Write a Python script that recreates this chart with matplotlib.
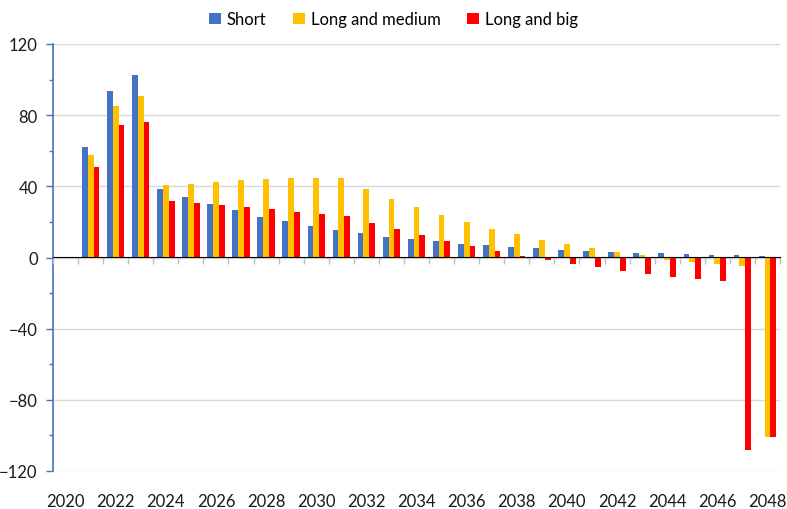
import matplotlib
matplotlib.use("Agg")
import matplotlib.pyplot as plt
from matplotlib.ticker import MultipleLocator, FixedLocator, NullFormatter, NullLocator
from matplotlib.patches import Patch
import numpy as np

years = list(range(2021, 2049))
short = [62, 93.5, 102.5, 38.5, 34, 30, 26.5, 23, 20.3, 17.6, 15.4, 13.5, 11.8,
         10.3, 9.0, 7.7, 6.8, 5.8, 5.1, 4.3, 3.8, 3.1, 2.7, 2.4, 2.0, 1.6, 1.4, 1.0]
long_medium = [57.5, 85.3, 90.5, 40.5, 41.5, 42.6, 43.4, 43.9, 44.5, 44.7, 44.9, 38.5, 32.8,
               28.2, 23.7, 19.7, 16.1, 13.0, 10.1, 7.5, 5.4, 3.1, 1.6, -1.2, -2.4, -3.8, -5.0, -101]
long_big = [51, 74.5, 76.3, 31.5, 30.4, 29.3, 28.2, 27.0, 25.7, 24.6, 23.3, 19.3, 15.8,
            12.4, 9.2, 6.2, 3.5, 1.1, -1.5, -3.5, -5.5, -7.4, -9.1, -10.8, -12.1, -13.4, -108, -101]
tick_years = list(range(2020, 2049, 2))
series_names = ["Short", "Long and medium", "Long and big"]
colors = ["#4472C4", "#FFC000", "#FF0000"]

plt.rcParams['font.family'] = ['Lato', 'DejaVu Sans']

fig = plt.figure(figsize=(7.87, 5.10), dpi=100)
ax = fig.add_axes([53/787, 1-472/510, (780-53)/787, (472-45)/510])

x = np.array(years, dtype=float)
w = 0.232
for i, (vals, c) in enumerate(zip([short, long_medium, long_big], colors)):
    ax.bar(x + (i - 1) * w, vals, width=w, color=c, zorder=3, linewidth=0)

ax.set_xlim(2019.5, 2048.5)
ax.set_ylim(-120, 120)

ax.yaxis.set_major_locator(MultipleLocator(40))
ax.yaxis.set_minor_locator(MultipleLocator(20))
ax.grid(axis='y', which='major', color='#d9d9d9', linewidth=1, zorder=0)
ax.set_axisbelow(True)

for s in ['top', 'right', 'bottom']:
    ax.spines[s].set_visible(False)
ax.spines['left'].set_color('#4472C4')
ax.spines['left'].set_linewidth(1.2)
ax.tick_params(axis='y', which='major', length=5, color='#4472C4', width=1,
               labelsize=12, labelcolor='#1a1a1a', pad=6)
ax.tick_params(axis='y', which='minor', length=3, color='#4472C4', width=1)

ax.set_xticks(tick_years)
ax.set_xticklabels([str(t) for t in tick_years])
ax.tick_params(axis='x', which='both', length=0, labelsize=12, labelcolor='#1a1a1a', pad=16)

# zero axis with category boundary ticks
sec = ax.secondary_xaxis(0.5)
sec.spines['bottom'].set_color('#bfbfbf')
sec.spines['bottom'].set_linewidth(1.2)
sec.xaxis.set_major_locator(FixedLocator(list(np.arange(2019.5, 2048.6, 1.0))))
sec.xaxis.set_minor_locator(NullLocator())
sec.xaxis.set_major_formatter(NullFormatter())
sec.tick_params(axis='x', which='major', direction='in', length=5, color='#bfbfbf', width=1,
                labelbottom=False, labeltop=False)
sec.set_zorder(4)

handles = [Patch(facecolor=c, edgecolor='none') for c in colors]
fig.legend(handles, series_names, loc='upper center', bbox_to_anchor=(0.5, 1.005),
           ncol=3, frameon=False, fontsize=12, handlelength=0.7, handleheight=0.7,
           handletextpad=0.35, columnspacing=1.6)

fig.savefig("out.png", dpi=100)
